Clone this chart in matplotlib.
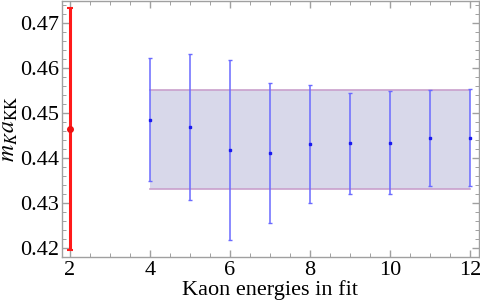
import matplotlib
matplotlib.use("Agg")
import matplotlib.pyplot as plt
from matplotlib.ticker import MultipleLocator

plt.rcParams['font.family'] = ['Liberation Serif', 'DejaVu Serif']
plt.rcParams['mathtext.fontset'] = 'stix'

# two-energy fit (red)
x_red = [2]
y_red = [0.4464]
err_red = [0.0268]

# fits with 4..12 kaon energies (blue)
x_fit = [4, 5, 6, 7, 8, 9, 10, 11, 12]
y_fit = [0.4484, 0.4469, 0.4418, 0.4411, 0.4430, 0.4433, 0.4434, 0.4444, 0.4445]
err_lo = [0.0136, 0.0162, 0.0200, 0.0155, 0.0131, 0.0112, 0.0115, 0.0107, 0.0108]
err_hi = [0.0137, 0.0161, 0.0200, 0.0155, 0.0131, 0.0111, 0.0114, 0.0106, 0.0108]

# final band
band_x = [4, 12]
band_lo = 0.4332
band_hi = 0.4550

fig = plt.figure(figsize=(4.8, 3.05), dpi=100)
ax = fig.add_axes([0.129, 0.157, 0.869, 0.841])

ax.fill_between(band_x, band_lo, band_hi, color='#d8d8ea', lw=0, zorder=1)
ax.plot(band_x, [band_hi, band_hi], color='#c9a0cc', lw=1.2, zorder=2)
ax.plot(band_x, [band_lo, band_lo], color='#c9a0cc', lw=1.2, zorder=2)

ax.errorbar(x_fit, y_fit, yerr=[err_lo, err_hi], fmt='s', ms=2,
            color='#1a1aee', ecolor='#6a6aff', elinewidth=1.1, capsize=1.5,
            capthick=1.0, zorder=3)
ax.errorbar(x_red, y_red, yerr=err_red, fmt='o', ms=4, color='#ee1111',
            ecolor='#ff1a1a', elinewidth=2.2, capsize=2, capthick=1.5, zorder=4)

ax.set_xlim(1.8, 12.22)
ax.set_ylim(0.418, 0.4749)
ax.xaxis.set_major_locator(MultipleLocator(2))
ax.xaxis.set_minor_locator(MultipleLocator(0.5))
ax.yaxis.set_major_locator(MultipleLocator(0.01))
ax.yaxis.set_minor_locator(MultipleLocator(0.002))
ax.yaxis.set_major_formatter(matplotlib.ticker.FormatStrFormatter('%.2f'))

for s in ax.spines.values():
    s.set_color('#a0a0a0')
    s.set_linewidth(1.0)
ax.tick_params(which='both', direction='in', top=True, right=True,
               color='#a0a0a0', labelsize=16)
ax.tick_params(which='major', length=5, width=1.0)
ax.tick_params(which='minor', length=3, width=0.7)
ax.tick_params(axis='y', pad=2)
ax.tick_params(axis='x', pad=3)

ax.set_xlabel('Kaon energies in fit', fontsize=16, labelpad=0)
ax.set_ylabel(r'$m_K a_{\mathrm{KK}}$', fontsize=17, labelpad=0)

fig.savefig('out.png', dpi=100)
